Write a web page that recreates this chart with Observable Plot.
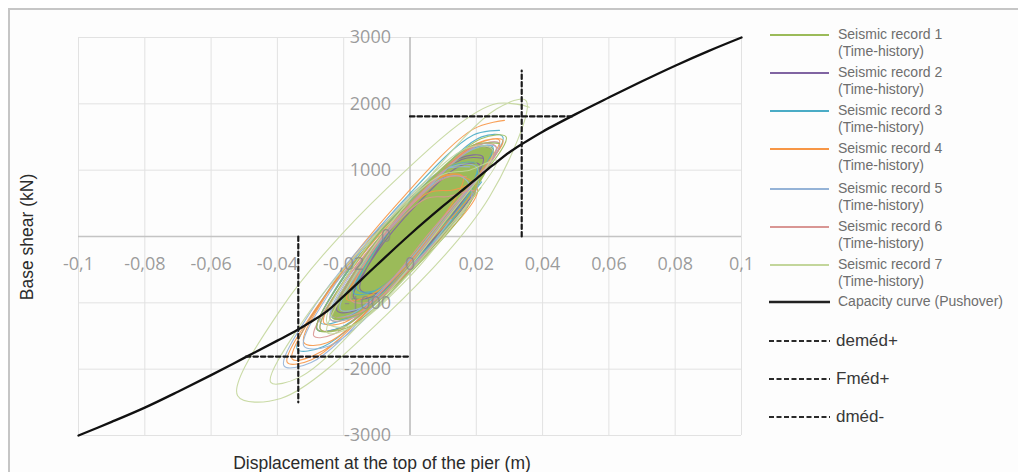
<!DOCTYPE html>
<html>
<head>
<meta charset="utf-8">
<script src="https://cdn.jsdelivr.net/npm/d3@7"></script>
<script src="https://cdn.jsdelivr.net/npm/@observablehq/plot@0.6"></script>
<style>
  html, body { margin: 0; padding: 0; background: #fff; }
  #wrap { position: relative; width: 1018px; height: 472px; overflow: hidden; font-family: "Liberation Sans", Arial, sans-serif; }
  #frame { position: absolute; left: 8px; top: 8px; width: 1200px; height: 700px; border: 2px solid #c6c6c6; background: #fdfdfd; }
  #chart { position: absolute; left: 0; top: 0; }
  .ytitle { position: absolute; left: 27px; top: 237px; transform: translate(-50%, -50%) rotate(-90deg); font-size: 17.5px; color: #2b2b2b; white-space: nowrap; }
  .xtitle { position: absolute; left: 382px; top: 463px; transform: translate(-50%, -50%); font-size: 17.5px; color: #2b2b2b; white-space: nowrap; }
  .leg { position: absolute; left: 768px; display: flex; align-items: flex-start; }
  .leg svg { flex: none; }
  .leg .t { margin-left: 8px; font-size: 14px; line-height: 17px; color: #6e6e6e; white-space: nowrap; }
  .leg .big { margin-left: 6px; font-size: 17px; line-height: 20px; color: #383838; }
</style>
</head>
<body>
<div id="wrap">
  <div id="frame"></div>
  <div id="chart"></div>
  <div class="ytitle">Base shear (kN)</div>
  <div class="xtitle">Displacement at the top of the pier (m)</div>
  <div id="legend"></div>
</div>
<script>
// ---- Tick values and labels ----
const xTicks = [-0.1, -0.08, -0.06, -0.04, -0.02, 0, 0.02, 0.04, 0.06, 0.08, 0.1];
const xTickLabels = ["-0,1", "-0,08", "-0,06", "-0,04", "-0,02", "0", "0,02", "0,04", "0,06", "0,08", "0,1"];
const yTicks = [-3000, -2000, -1000, 0, 1000, 2000, 3000];
const yTickLabels = ["-3000", "-2000", "-1000", "0", "1000", "2000", "3000"];

// ---- Series names and colours ----
const seriesNames = [
  "Seismic record 1", "Seismic record 2", "Seismic record 3", "Seismic record 4",
  "Seismic record 5", "Seismic record 6", "Seismic record 7"
];
const seriesColors = ["#9bbb59", "#8064a2", "#4bacc6", "#f79646", "#95b3d7", "#d99694", "#c3d69b"];

// ---- Time-history loops [displacement (m), base shear (kN)] ----
const record1 = [
  [0.027,1400],[0.0191,1379],[0,550],[-0.0191,-601],[-0.027,-1400],[-0.0191,-1379],[0,-550],[0.0191,601],
  [0.020,1100],[0.013,1088],[-0.004,350],[-0.021,-680],[-0.028,-1400],[-0.021,-1388],[-0.004,-650],[0.013,380],
  [0.029,1500],[0.0214,1472],[0.003,670],[-0.0154,-436],[-0.023,-1200],[-0.0154,-1172],[0.003,-370],[0.0214,736]
];
const record1Core = [
  [0.025,1320],[0.018,1290],[0.001,550],[-0.016,-480],[-0.0235,-1220],[-0.016,-1190],[0.001,-450],[0.018,580]
];
const record2 = [
  [0.022,1180],[0.0156,1161],[0,480],[-0.0156,-465],[-0.022,-1120],[-0.0156,-1101],[0,-420],[0.0156,525],
  [0.022,1200],[0.0147,1173],[-0.003,400],[-0.0207,-665],[-0.028,-1400],[-0.0207,-1373],[-0.003,-600],[0.0147,465],
  [0.021,1080],[0.0154,1070],[0.002,480],[-0.0114,-344],[-0.017,-920],[-0.0114,-910],[0.002,-320],[0.0154,504],
  [0.025,1300],[0.0191,1346],[0.005,750],[-0.0091,-138],[-0.015,-800],[-0.0091,-846],[0.005,-250],[0.0191,638]
];
const record3 = [
  [0.027,1600],[0.0191,1529],[0,650],[-0.0191,-521],[-0.027,-1300],[-0.0191,-1229],[0,-350],[0.0191,821],
  [0.020,1100],[0.013,1073],[-0.004,330],[-0.021,-695],[-0.028,-1400],[-0.021,-1373],[-0.004,-630],[0.013,395],
  [0.025,1350],[0.0188,1325],[0.004,670],[-0.0108,-231],[-0.017,-850],[-0.0108,-825],[0.004,-170],[0.0188,731],
  [0.020,1100],[0.0121,1058],[-0.007,220],[-0.0261,-922],[-0.034,-1700],[-0.0261,-1658],[-0.007,-820],[0.0121,322],
  [0.028,1500],[0.0216,1502],[0.006,830],[-0.0096,-124],[-0.016,-800],[-0.0096,-802],[0.006,-130],[0.0216,824]
];
const record4 = [
  [0.0285,1750],[0.0191,1619],[-0.0035,510],[-0.0261,-927],[-0.0355,-1850],[-0.0261,-1719],[-0.0035,-610],[0.0191,827],
  [0.028,1450],[0.0204,1408],[0.002,600],[-0.0164,-500],[-0.024,-1250],[-0.0164,-1208],[0.002,-400],[0.0204,700],
  [0.016,900],[0.0098,896],[-0.005,250],[-0.0198,-660],[-0.026,-1300],[-0.0198,-1296],[-0.005,-650],[0.0098,260],
  [0.027,1450],[0.0203,1395],[0.004,670],[-0.0123,-301],[-0.019,-950],[-0.0123,-895],[0.004,-170],[0.0203,801],
  [0.013,700],[0.0057,658],[-0.012,-120],[-0.0297,-1180],[-0.037,-1900],[-0.0297,-1858],[-0.012,-1080],[0.0057,-20],
  [0.016,900],[0.009,902],[-0.008,170],[-0.025,-866],[-0.032,-1600],[-0.025,-1602],[-0.008,-870],[0.009,166]
];
const record5 = [
  [0.018,1050],[0.0098,1000],[-0.010,100],[-0.0298,-1122],[-0.038,-1950],[-0.0298,-1900],[-0.010,-1000],[0.0098,222],
  [0.026,1350],[0.0187,1308],[0.001,530],[-0.0167,-530],[-0.024,-1250],[-0.0167,-1208],[0.001,-430],[0.0187,630],
  [0.016,890],[0.0101,882],[-0.004,270],[-0.0181,-588],[-0.024,-1190],[-0.0181,-1182],[-0.004,-570],[0.0101,288],
  [0.027,1400],[0.020,1359],[0.003,610],[-0.014,-409],[-0.021,-1100],[-0.014,-1059],[0.003,-310],[0.020,709],
  [0.020,1050],[0.0124,1050],[-0.006,260],[-0.0244,-858],[-0.032,-1650],[-0.0244,-1650],[-0.006,-860],[0.0124,258]
];
const record6 = [
  [0.017,900],[0.0106,881],[-0.005,200],[-0.0206,-745],[-0.027,-1400],[-0.0206,-1381],[-0.005,-700],[0.0106,245],
  [0.027,1400],[0.0197,1358],[0.002,580],[-0.0157,-480],[-0.023,-1200],[-0.0157,-1158],[0.002,-380],[0.0197,680],
  [0.011,600],[0.0051,575],[-0.009,-50],[-0.0231,-909],[-0.029,-1500],[-0.0231,-1475],[-0.009,-850],[0.0051,9],
  [0.026,1350],[0.0196,1381],[0.004,720],[-0.0116,-245],[-0.018,-950],[-0.0116,-981],[0.004,-320],[0.0196,645]
];
const record7 = [
  [0.036,1950],[0.025,1990],[-0.0075,700],[-0.039,-1098],[-0.052,-2400],[-0.039,-2442],[-0.0075,-1200],[0.024,598],
  [0.035,2050],[0.0262,1926],[0.005,850],[-0.0162,-548],[-0.025,-1450],[-0.0162,-1326],[0.005,-250],[0.0262,1148],
  [0.018,1000],[0.0092,920],[-0.012,-50],[-0.0332,-1342],[-0.042,-2200],[-0.0332,-2120],[-0.012,-1150],[0.0092,142],
  [0.025,1300],[0.0177,1343],[0,600],[-0.0177,-495],[-0.025,-1300],[-0.0177,-1343],[0,-600],[0.0177,495]
];
const records = [record1, record2, record3, record4, record5, record6, record7];
const drawOrder = [1, 2, 3, 4, 5, 0, 6];

// ---- Capacity curve (pushover) ----
const capacityX = [-0.1,-0.09,-0.08,-0.07,-0.06,-0.05,-0.04,-0.034,-0.03,-0.025,-0.02,-0.01,0,0.01,0.02,0.025,0.03,0.034,0.04,0.05,0.06,0.07,0.08,0.09,0.1];
const capacityY = [-3000,-2795,-2580,-2340,-2090,-1830,-1570,-1410,-1290,-1125,-900,-430,30,460,870,1075,1270,1400,1580,1845,2095,2340,2575,2795,3000];

// ---- Performance-point dashed lines ----
const dmedPlus = [[0.0337,0],[0.0337,2500]];
const fmedPlus = [[0,1810],[0.0495,1810]];
const dmedMinus = [[-0.0337,0],[-0.0337,-2500]];
const fmedMinus = [[-0.0495,-1810],[0,-1810]];

const capacity = capacityX.map((x, i) => ({x, y: capacityY[i]}));
const tickFont = {fontFamily: "'Open Sans', sans-serif", fontSize: 18, fill: "#8a8a8a"};
const dashStyle = {x: d => d[0], y: d => d[1], stroke: "#1a1a1a", strokeWidth: 2.2, strokeDasharray: "4.5,3"};

const marks = [
  Plot.ruleX(xTicks, {stroke: "#e2e2e2", strokeWidth: 1}),
  Plot.ruleY(yTicks, {stroke: "#e2e2e2", strokeWidth: 1}),
  Plot.ruleX([0], {stroke: "#b5b5b5", strokeWidth: 1.3}),
  Plot.ruleY([0], {stroke: "#c4c4c4", strokeWidth: 1.3}),
  Plot.line(record1Core, {x: d => d[0], y: d => d[1], stroke: seriesColors[0], strokeWidth: 1.5, fill: seriesColors[0], curve: "catmull-rom-closed"})
];
drawOrder.forEach(k => {
  marks.push(Plot.line(records[k], {x: d => d[0], y: d => d[1], stroke: seriesColors[k], strokeWidth: 1.1, strokeOpacity: 0.9, curve: "catmull-rom"}));
});
marks.push(Plot.line(capacity, {x: "x", y: "y", stroke: "#111", strokeWidth: 2.3, curve: "catmull-rom"}));
marks.push(Plot.line(dmedPlus, dashStyle));
marks.push(Plot.line(fmedPlus, dashStyle));
marks.push(Plot.line(dmedMinus, dashStyle));
marks.push(Plot.line(fmedMinus, dashStyle));
marks.push(Plot.text(xTicks, {x: d => d, y: 0, text: (d, i) => xTickLabels[i], dy: 28, textAnchor: "middle", ...tickFont, fillOpacity: 0.85}));
marks.push(Plot.text(yTicks, {x: 0, y: d => d, text: (d, i) => yTickLabels[i], dx: -19, textAnchor: "end", ...tickFont, fillOpacity: 0.85}));

const chart = Plot.plot({
  width: 1018,
  height: 472,
  marginLeft: 78,
  marginRight: 277,
  marginTop: 37,
  marginBottom: 37,
  style: {background: "transparent", overflow: "visible"},
  x: {domain: [-0.1, 0.1], axis: null},
  y: {domain: [-3000, 3000], axis: null},
  marks
});
document.getElementById("chart").appendChild(chart);

// ---- Legend ----
const legend = document.getElementById("legend");
const legendTops = [26, 64, 102, 140, 180, 218, 256];
seriesNames.forEach((name, k) => {
  const el = document.createElement("div");
  el.className = "leg";
  el.style.top = legendTops[k] + "px";
  el.innerHTML = `<svg width="62" height="18"><line x1="2" x2="61" y1="9" y2="9" stroke="${seriesColors[k]}" stroke-width="2"/></svg><div class="t">${name}<br>(Time-history)</div>`;
  legend.appendChild(el);
});
const cap = document.createElement("div");
cap.className = "leg";
cap.style.top = "293px";
cap.innerHTML = `<svg width="62" height="18"><line x1="1" x2="62" y1="9" y2="9" stroke="#222" stroke-width="2.6"/></svg><div class="t">Capacity curve (Pushover)</div>`;
legend.appendChild(cap);
const dashedItems = [["deméd+", 331], ["Fméd+", 369], ["dméd-", 407]];
dashedItems.forEach(([name, top]) => {
  const el = document.createElement("div");
  el.className = "leg";
  el.style.top = top + "px";
  el.innerHTML = `<svg width="62" height="20"><line x1="1" x2="62" y1="10" y2="10" stroke="#2a2a2a" stroke-width="2" stroke-dasharray="5,2.5"/></svg><div class="t big">${name}</div>`;
  legend.appendChild(el);
});
</script>
</body>
</html>
